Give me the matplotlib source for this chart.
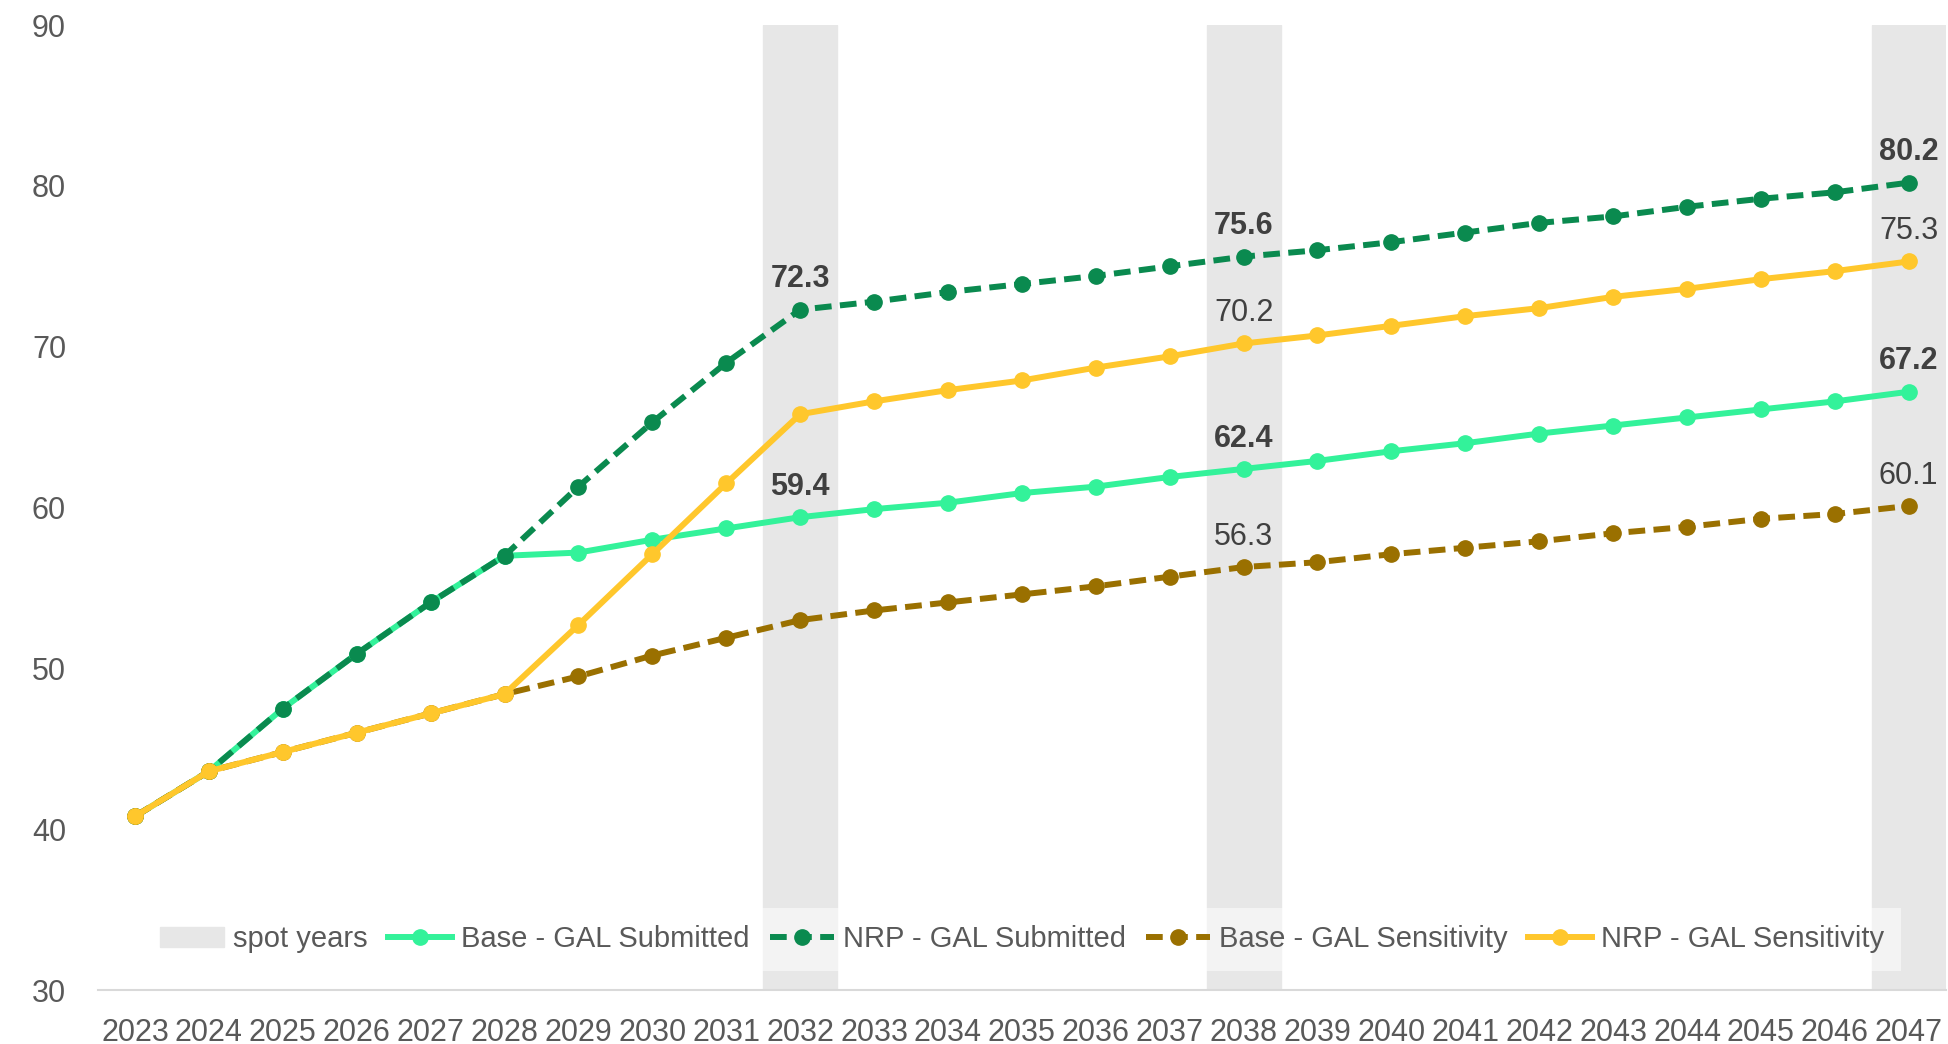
import matplotlib
matplotlib.use("Agg")
import matplotlib.pyplot as plt

years = [str(y) for y in range(2023, 2048)]
spot_years = ["2032", "2038", "2047"]

base_submitted = [40.8, 43.6, 47.5, 50.9, 54.1, 57.0, 57.2, 58.0, 58.7, 59.4,
                  59.9, 60.3, 60.9, 61.3, 61.9, 62.4, 62.9, 63.5, 64.0, 64.6,
                  65.1, 65.6, 66.1, 66.6, 67.2]
nrp_submitted = [40.8, 43.6, 47.5, 50.9, 54.1, 57.0, 61.3, 65.3, 69.0, 72.3,
                 72.8, 73.4, 73.9, 74.4, 75.0, 75.6, 76.0, 76.5, 77.1, 77.7,
                 78.1, 78.7, 79.2, 79.6, 80.2]
base_sensitivity = [40.8, 43.6, 44.8, 46.0, 47.2, 48.4, 49.5, 50.8, 51.9, 53.0,
                    53.6, 54.1, 54.6, 55.1, 55.7, 56.3, 56.6, 57.1, 57.5, 57.9,
                    58.4, 58.8, 59.3, 59.6, 60.1]
nrp_sensitivity = [40.8, 43.6, 44.8, 46.0, 47.2, 48.4, 52.7, 57.1, 61.5, 65.8,
                   66.6, 67.3, 67.9, 68.7, 69.4, 70.2, 70.7, 71.3, 71.9, 72.4,
                   73.1, 73.6, 74.2, 74.7, 75.3]

# which years get a value label, per series
submitted_label_years = ["2032", "2038", "2047"]
sensitivity_label_years = ["2038", "2047"]

FONT = ["Liberation Sans", "DejaVu Sans"]
plt.rcParams["font.family"] = FONT

fig = plt.figure(figsize=(19.49, 10.44), dpi=100)
ax = fig.add_axes([0.0503, 0.0517, 0.948, 0.9243])

x = list(range(len(years)))

# grey bands behind the spot years
for i, yr in enumerate(spot_years):
    k = years.index(yr)
    ax.axvspan(k - 0.5, k + 0.5, color="#E7E7E7", zorder=0,
               label="spot years" if i == 0 else None)

series = [
    ("Base - GAL Submitted", base_submitted, "#33F29A", "-", True, submitted_label_years),
    ("NRP - GAL Submitted", nrp_submitted, "#0A8A4F", "--", True, submitted_label_years),
    ("Base - GAL Sensitivity", base_sensitivity, "#9A7000", "--", False, sensitivity_label_years),
    ("NRP - GAL Sensitivity", nrp_sensitivity, "#FFC72C", "-", False, sensitivity_label_years),
]

for name, vals, col, ls, bold, lab_years in series:
    line, = ax.plot(x, vals, color=col, lw=4.3, ls=ls, marker="o",
                    markersize=11, label=name, zorder=3)
    if ls == "--":
        line.set_dashes((2.8, 1.4))
    for yr in lab_years:
        k = years.index(yr)
        ax.annotate(f"{vals[k]:.1f}", (k, vals[k]), xytext=(0, 11),
                    textcoords="offset points", ha="center", va="bottom",
                    fontsize=22, color="#404040",
                    fontweight="bold" if bold else "normal", zorder=5,
                    annotation_clip=False)

ax.set_xlim(-0.5, len(years) - 0.5)
ax.set_ylim(30, 90)
ax.set_xticks(x)
ax.set_xticklabels(years)
ax.set_yticks(range(30, 91, 10))
ax.tick_params(axis="both", length=0, labelsize=22, labelcolor="#595959")
ax.tick_params(axis="x", pad=20)
ax.tick_params(axis="y", pad=23)

for s in ["top", "right", "left"]:
    ax.spines[s].set_visible(False)
ax.spines["bottom"].set_color("#D9D9D9")
ax.spines["bottom"].set_linewidth(1.5)

leg = ax.legend(loc="lower center", bbox_to_anchor=(0.5, 0.02), ncol=5,
                fontsize=21, frameon=True, fancybox=False, framealpha=0.5,
                edgecolor="none", handlelength=2.2, handletextpad=0.3,
                columnspacing=0.7, borderpad=0.6, borderaxespad=0)
for t in leg.get_texts():
    t.set_color("#595959")
leg.set_zorder(6)

fig.savefig("out.png", dpi=100)
